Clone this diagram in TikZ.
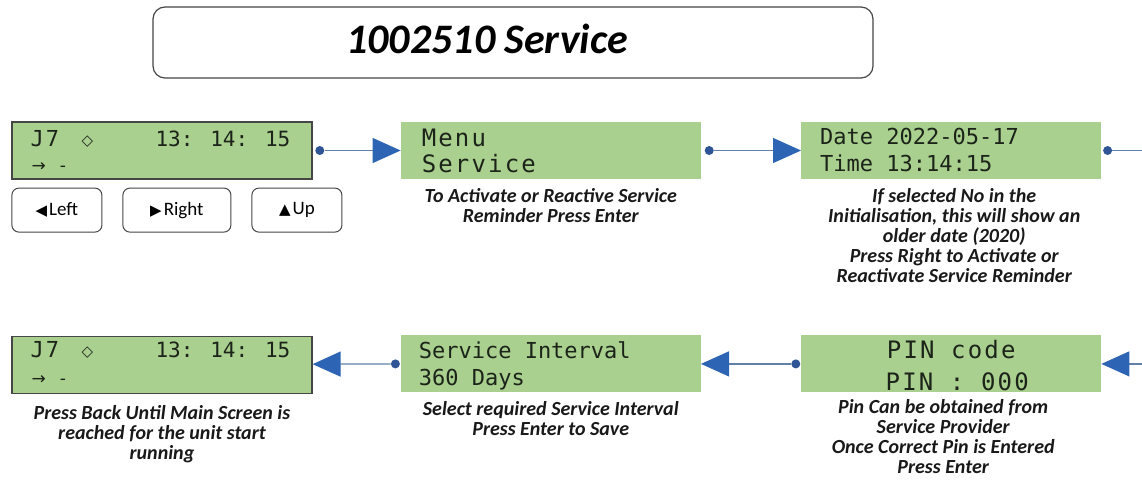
\documentclass[tikz,border=0pt]{standalone}
\usepackage{fontspec}
\setmainfont{Carlito}
\newfontfamily\lcdfont{DejaVu Sans Mono}
\newfontfamily\lcdwide{DejaVu Sans Mono}[LetterSpace=9]
\newfontfamily\symfont{DejaVu Sans}
\usetikzlibrary{positioning, arrows.meta}
\definecolor{LcdGreen}{RGB}{169, 208, 142}
\definecolor{LcdInk}{RGB}{28, 36, 26}
\definecolor{FrameGray}{RGB}{70, 70, 70}
\definecolor{LinkBlue}{RGB}{96, 128, 168}
\definecolor{TipBlue}{RGB}{46, 100, 180}
\definecolor{DotBlue}{RGB}{47, 85, 151}

\begin{document}
\begin{tikzpicture}[x=1pt, y=1pt,
      lcd/.style={rectangle, fill=LcdGreen, minimum width=300pt, minimum height=57pt, inner sep=0pt},
      lcdframe/.style={lcd, draw=FrameGray, line width=1.2pt},
      lcdtxt/.style={inner sep=0pt, text=LcdInk, font=\lcdfont\fontsize{22}{22}\selectfont},
      lcdclock/.style={lcdtxt, font=\lcdfont\fontsize{21}{21}\selectfont},
      lcdwidetxt/.style={inner sep=0pt, text=LcdInk, font=\lcdwide\fontsize{24}{24}\selectfont},
      lcdsym/.style={inner sep=0pt, text=LcdInk, font=\symfont\fontsize{15}{15}\selectfont},
      caption/.style={inner sep=0pt, align=center, text=black!90, font=\bfseries\itshape\fontsize{20}{20}\selectfont},
      titlebox/.style={rectangle, rounded corners=12pt, draw=FrameGray, line width=1.2pt, minimum width=720pt, minimum height=71pt},
      titletxt/.style={inner sep=0pt, font=\bfseries\itshape\fontsize{42}{42}\selectfont},
      btn/.style={rectangle, rounded corners=7pt, draw=FrameGray, line width=1pt, minimum height=44pt, inner sep=0pt,
      font=\fontsize{19}{19}\selectfont},
      joint/.style={circle, fill=DotBlue, minimum size=9pt, inner sep=0pt},
      wire/.style={draw=LinkBlue, line width=1.2pt},
      link/.style={wire, -{Triangle[length=28pt, width=25pt, color=TipBlue]}}
    ]
      \fill[white] (0,0) rectangle (1142,-485);
      \useasboundingbox (0,0) rectangle (1142,-485);

      \node[titlebox] (title) at (513,-42.5) {};
      \node[titletxt] (titleText) at ([xshift=-26pt, yshift=3.5pt]title.center) {1002510 Service};

      \node[lcdframe] (boxA) at (162,-150.5) {};
      \node[lcd, right=88pt of boxA] (boxB) {};
      \node[lcd, right=100pt of boxB] (boxC) {};
      \node[lcdframe, below=156pt of boxA] (boxD) {};
      \node[lcd, below=156pt of boxB] (boxE) {};
      \node[lcd, below=156pt of boxC] (boxF) {};

      \node[lcdtxt, anchor=base west] (aId) at ([xshift=19pt, yshift=-25pt]boxA.north west) {J\hspace{2pt}7};
      \node[lcdsym] (aMark) at ([xshift=76pt, yshift=-20pt]boxA.north west) {◇};
      \node[lcdclock, anchor=base east] (aClock) at ([xshift=-22pt, yshift=-25pt]boxA.north east) {13: 14: 15};
      \node[lcdsym, anchor=base west, font=\symfont\fontsize{17}{17}\selectfont] (aCursor)
        at ([xshift=20pt, yshift=-50pt]boxA.north west) {→\hspace{14pt}-};

      \node[lcdwidetxt, anchor=base west] (bTop) at ([xshift=21pt, yshift=-25pt]boxB.north west) {Menu};
      \node[lcdwidetxt, anchor=base west] (bBot) at ([xshift=21pt, yshift=-51pt]boxB.north west) {Service};

      \node[lcdtxt, anchor=base west] (cTop) at ([xshift=19pt, yshift=-23pt]boxC.north west) {Date 2022-05-17};
      \node[lcdtxt, anchor=base west] (cBot) at ([xshift=19pt, yshift=-50pt]boxC.north west) {Time 13:14:15};

      \node[lcdtxt, anchor=base west] (dId) at ([xshift=19pt, yshift=-22pt]boxD.north west) {J\hspace{2pt}7};
      \node[lcdsym] (dMark) at ([xshift=76pt, yshift=-17pt]boxD.north west) {◇};
      \node[lcdclock, anchor=base east] (dClock) at ([xshift=-22pt, yshift=-22pt]boxD.north east) {13: 14: 15};
      \node[lcdsym, anchor=base west, font=\symfont\fontsize{17}{17}\selectfont] (dCursor)
        at ([xshift=20pt, yshift=-49pt]boxD.north west) {→\hspace{14pt}-};

      \node[lcdtxt, anchor=base west] (eTop) at ([xshift=18pt, yshift=-23pt]boxE.north west) {Service Interval};
      \node[lcdtxt, anchor=base west] (eBot) at ([xshift=18pt, yshift=-50pt]boxE.north west) {360 Days};

      \node[lcdwidetxt, anchor=base] (fTop) at ([yshift=-23pt]boxF.north) {PIN code};
      \node[lcdwidetxt, anchor=base] (fBot) at ([xshift=6pt, yshift=-55pt]boxF.north) {PIN : 000};

      \node[btn, minimum width=90pt, below right=8pt and 0pt of boxA.south west] (btnLeft)
        {{\symfont\fontsize{15}{15}\selectfont ◀}\hspace{2pt}Left};
      \node[btn, minimum width=108pt, right=20pt of btnLeft] (btnRight)
        {{\symfont\fontsize{15}{15}\selectfont ▶}\hspace{2pt}Right};
      \node[btn, minimum width=90pt, right=20pt of btnRight] (btnUp)
        {{\symfont\fontsize{15}{15}\selectfont ▲}\hspace{2pt}Up};

      \node[caption, below=9pt of boxB] (capB) {To Activate or Reactive Service\\Reminder Press Enter};
      \node[caption, below=9pt of boxC, xshift=3pt] (capC) {If selected No in the\\Initialisation, this will show an\\older date (2020)\\
        Press Right to Activate or\\Reactivate Service Reminder};
      \node[caption, below=11pt of boxD] (capD) {Press Back Until Main Screen is\\reached for the unit start\\running};
      \node[caption, below=9pt of boxE] (capE) {Select required Service Interval\\Press Enter to Save};
      \node[caption, below=7pt of boxF, xshift=-8pt] (capF) {Pin Can be obtained from\\Service Provider\\
        Once Correct Pin is Entered\\Press Enter};

      \node[joint, right=2.5pt of boxA] (jA) {};
      \node[joint, right=3.5pt of boxB] (jB) {};
      \node[joint, right=1.5pt of boxC] (jC) {};
      \node[joint, left=0.5pt of boxF] (jF) {};
      \node[joint, left=0.5pt of boxE] (jE) {};
      \coordinate (exitTop) at ([xshift=42pt]boxC.east);
      \coordinate (entryBot) at ([xshift=42pt]boxF.east);

      \draw[link] (jA) -- (boxB);
      \draw[link] (jB) -- (boxC);
      \draw[wire] (jC) -- (exitTop);
      \draw[link] (entryBot) -- (boxF);
      \draw[link] (jF) -- (boxE);
      \draw[link] (jE) -- (boxD);
    \end{tikzpicture}
\end{document}
